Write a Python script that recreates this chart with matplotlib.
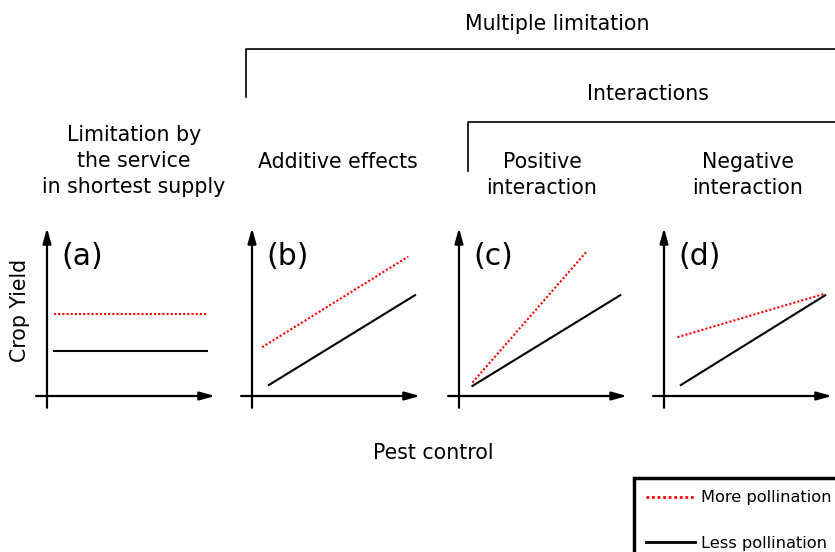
import matplotlib
matplotlib.use("Agg")
import matplotlib.pyplot as plt
from matplotlib.lines import Line2D

W, H = 835, 552
fig = plt.figure(figsize=(W / 100, H / 100), dpi=100)

# ---- data (Pest control on x, Crop Yield on y, arbitrary 0-10 units) ----
panel_labels = ["(a)", "(b)", "(c)", "(d)"]
more_x = [[0.4, 9.5], [0.6, 9.3], [0.8, 7.6], [0.8, 9.6]]
more_y = [[4.9, 4.9], [2.9, 8.3], [0.8, 8.6], [3.5, 6.1]]
less_x = [[0.4, 9.5], [1.0, 9.7], [0.8, 9.6], [1.0, 9.6]]
less_y = [[2.7, 2.7], [0.65, 6.0], [0.6, 6.0], [0.65, 6.0]]
legend_labels = ["More pollination", "Less pollination"]

# layout (pixels)
origins_x = [47, 252, 459, 664]
origin_y = 396
unit = 16.8
xmin, xmax = -0.65, 10.0
ymin, ymax = -0.7, 10.0

for i in range(4):
    left = (origins_x[i] + xmin * unit) / W
    width = (xmax - xmin) * unit / W
    bottom = (H - (origin_y - ymin * unit)) / H
    height = (ymax - ymin) * unit / H
    ax = fig.add_axes([left, bottom, width, height])
    ax.set_xlim(xmin, xmax)
    ax.set_ylim(ymin, ymax)
    ax.axis("off")
    arrow = dict(arrowstyle="-|>,head_length=0.9,head_width=0.25", color="black",
                 lw=1.6, shrinkA=0, shrinkB=0)
    ax.annotate("", xy=(xmax, 0), xytext=(xmin, 0), arrowprops=arrow,
                annotation_clip=False)
    ax.annotate("", xy=(0, ymax), xytext=(0, ymin), arrowprops=arrow,
                annotation_clip=False)
    ax.plot(more_x[i], more_y[i], color="red", lw=1.5, linestyle=(0, (1, 1)))
    ax.plot(less_x[i], less_y[i], color="black", lw=1.5)
    ax.text(0.85, 8.3, panel_labels[i], fontsize=21.5, va="center", ha="left")

# ---- overlay for headings and brackets ----
ov = fig.add_axes([0, 0, 1, 1], zorder=-1)
ov.set_xlim(0, W)
ov.set_ylim(H, 0)
ov.axis("off")

fs = 14.8
ov.text(557, 24, "Multiple limitation", ha="center", va="center", fontsize=fs)
ov.plot([246, 246, 840], [97, 49, 49], color="black", lw=1.2, clip_on=False)
ov.text(648, 94, "Interactions", ha="center", va="center", fontsize=fs)
ov.plot([468, 468, 840], [171, 122, 122], color="black", lw=1.2, clip_on=False)

ov.text(134, 161, "Limitation by\nthe service\nin shortest supply", ha="center",
        va="center", fontsize=fs, linespacing=1.35)
ov.text(338, 162, "Additive effects", ha="center", va="center", fontsize=fs)
ov.text(542, 175, "Positive\ninteraction", ha="center", va="center", fontsize=fs,
        linespacing=1.35)
ov.text(748, 175, "Negative\ninteraction", ha="center", va="center", fontsize=fs,
        linespacing=1.35)
ov.text(20, 310, "Crop Yield", ha="center", va="center", fontsize=fs, rotation=90)
ov.text(433, 453, "Pest control", ha="center", va="center", fontsize=fs)

# ---- legend ----
handles = [Line2D([], [], color="red", lw=2, linestyle=(0, (1, 1))),
           Line2D([], [], color="black", lw=2)]
leg = fig.legend(handles, legend_labels, loc="upper left",
                 bbox_to_anchor=(634 / W, 1 - 478 / H), fontsize=11.7,
                 frameon=True, fancybox=False, edgecolor="black", framealpha=1,
                 handlelength=3.0, handletextpad=0.4, labelspacing=1.9,
                 borderpad=0.75, borderaxespad=0)
leg.get_frame().set_linewidth(2.5)

fig.savefig("out.png", dpi=100)
